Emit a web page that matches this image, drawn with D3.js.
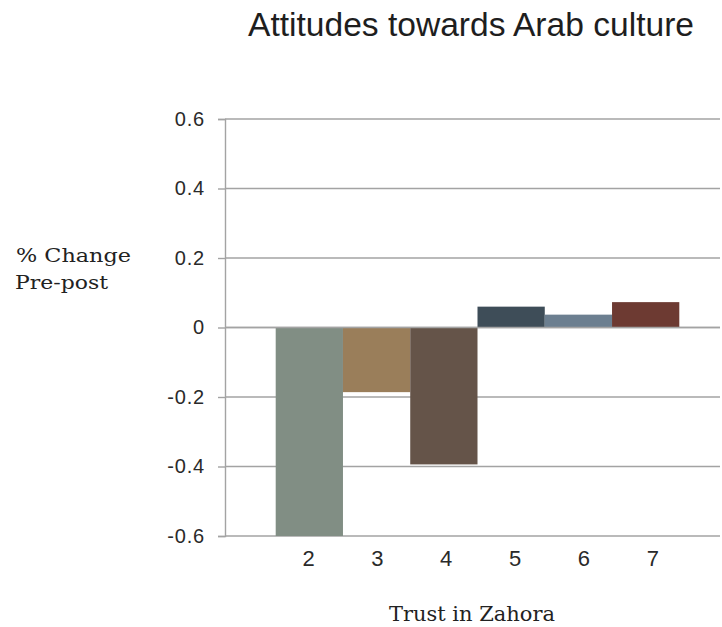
<!DOCTYPE html>
<html><head><meta charset="utf-8">
<script src="https://cdn.jsdelivr.net/npm/d3@7"></script>
<style>body{margin:0;background:#fff;}svg{display:block;}</style>
</head><body>
<script>
const categories = ["2","3","4","5","6","7"];
const values = [-0.6, -0.186, -0.394, 0.06, 0.037, 0.073];
const colors = ["#818E84","#9A7E5A","#655449","#3E4D58","#6C7F90","#6D3A32"];
const yTicks = [-0.6,-0.4,-0.2,0,0.2,0.4,0.6];
const title = "Attitudes towards Arab culture";
const xTitle = "Trust in Zahora";
const yTitle = ["% Change","Pre-post"];

const W = 722, H = 627;
const svg = d3.select("body").append("svg").attr("width",W).attr("height",H);

const y = d3.scaleLinear().domain([-0.6,0.6]).range([536,119]);
const xBar = d3.scaleBand().domain(categories).range([275.7,679.3]).padding(0);
const xLab = d3.scalePoint().domain(categories).range([308,652.3]);
const axisX = 225;
const gridColor = "#a3a3a3";

// gridlines
svg.append("g").selectAll("line").data(yTicks).join("line")
  .attr("x1",axisX).attr("x2",720).attr("y1",d=>y(d)).attr("y2",d=>y(d))
  .attr("stroke",gridColor).attr("stroke-width",1.4);

// bars
svg.append("g").selectAll("rect").data(values).join("rect")
  .attr("x",(d,i)=>xBar(categories[i]))
  .attr("width",xBar.bandwidth())
  .attr("y",d=>y(Math.max(0,d)))
  .attr("height",d=>Math.abs(y(d)-y(0)))
  .attr("fill",(d,i)=>colors[i]);

// zero line over bars
svg.append("line").attr("x1",axisX).attr("x2",720).attr("y1",y(0)).attr("y2",y(0))
  .attr("stroke",gridColor).attr("stroke-width",1.4);

// y axis
const yAxis = d3.axisLeft(y).tickValues(yTicks).tickSize(7).tickPadding(13)
  .tickFormat(d=> d===0 ? "0" : d3.format(".1f")(d).replace("\u2212","-"));
const gy = svg.append("g").attr("transform",`translate(${axisX},0)`).call(yAxis);
gy.select(".domain").attr("stroke",gridColor).attr("stroke-width",1.4);
gy.selectAll(".tick line").attr("stroke",gridColor).attr("stroke-width",1.4);
gy.selectAll("text").attr("font-family","Liberation Sans, Arial, sans-serif")
  .attr("font-size",20).attr("letter-spacing","0.8px").attr("fill","#2a2a2a");

// x labels
const xAxis = d3.axisBottom(xLab).tickSize(0).tickPadding(14);
const gx = svg.append("g").attr("transform",`translate(0,${y(-0.6)})`).call(xAxis);
gx.select(".domain").remove();
gx.selectAll("text").attr("font-family","Liberation Sans, Arial, sans-serif")
  .attr("font-size",22).attr("fill","#2a2a2a");

// title
svg.append("text").attr("x",471).attr("y",36).attr("text-anchor","middle")
  .attr("font-family","Liberation Sans, Arial, sans-serif").attr("font-size",33)
  .attr("fill","#1e1e1e").attr("textLength",446).attr("lengthAdjust","spacingAndGlyphs")
  .text(title);

// axis titles
svg.append("text").attr("x",472).attr("y",621).attr("text-anchor","middle")
  .attr("font-family","DejaVu Serif, serif").attr("font-size",20).attr("fill","#222")
  .attr("textLength",166).attr("lengthAdjust","spacingAndGlyphs")
  .text(xTitle);
const yt = svg.append("text").attr("font-family","DejaVu Serif, serif").attr("font-size",18.5).attr("fill","#222");
yt.append("tspan").attr("x",16).attr("y",262.3).attr("textLength",115).attr("lengthAdjust","spacingAndGlyphs").text(yTitle[0]);
yt.append("tspan").attr("x",15).attr("y",289).attr("textLength",93).attr("lengthAdjust","spacingAndGlyphs").text(yTitle[1]);
</script>
</body></html>
